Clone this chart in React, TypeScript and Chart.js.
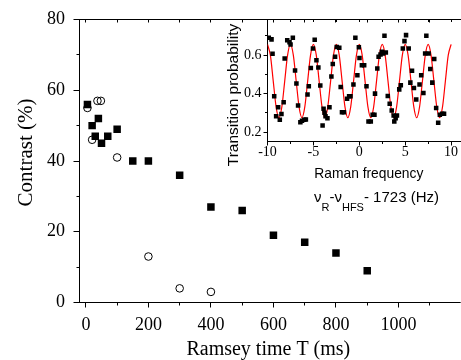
import React, { useEffect, useRef } from "react";
import { Chart, registerables } from "chart.js";

Chart.register(...registerables);

// ---------- Main chart data ----------
const squareTime = [5, 20, 30, 40, 50, 70, 100, 150, 200, 300, 400, 500, 600, 700, 800, 900];
const squareContrast = [56, 50, 47, 52, 45, 47, 49, 40, 40, 36, 27, 26, 19, 17, 14, 9];
const circleTime = [5, 20, 37, 48, 100, 200, 300, 400];
const circleContrast = [55, 46, 57, 57, 41, 13, 4, 3];
const mainXTicks = [0, 200, 400, 600, 800, 1000];
const mainXMinor = [100, 300, 500, 700, 900, 1100];
const mainYTicks = [0, 20, 40, 60, 80];
const mainYMinor = [10, 30, 50, 70];

// ---------- Inset data ----------
const insetFreq = [
  -9.86, -9.56, -9.45, -9.27, -9.06, -8.84, -8.66, -8.48, -8.24, -8.13,
  -7.85, -7.6, -7.49, -7.24, -7.0, -6.85, -6.67, -6.42, -6.24, -5.99,
  -5.82, -5.64, -5.5, -5.28, -5.05, -4.86, -4.67, -4.46, -4.25, -4.0,
  -3.89, -3.79, -3.68, -3.47, -3.25, -3.04, -2.89, -2.64, -2.46, -2.18,
  -2.03, -1.89, -1.68, -1.33, -1.11, -0.96, -0.64, -0.43, -0.21, -0.05,
  0.02, 0.28, 0.53, 0.78, 1.0, 1.25, 1.45, 1.65, 1.71, 1.96,
  2.1, 2.31, 2.46, 2.6, 2.74, 2.89, 3.1, 3.31, 3.53, 3.74,
  3.81, 3.96, 4.1, 4.35, 4.52, 4.74, 4.92, 5.09, 5.38, 5.56,
  5.74, 5.95, 6.2, 6.56, 6.74, 6.98, 7.17, 7.3, 7.55, 7.73,
  7.95, 8.16, 8.37, 8.59, 8.77, 9.02, 9.23,
];
const insetProb = [
  0.69, 0.681, 0.606, 0.386, 0.283, 0.33, 0.265, 0.294, 0.355, 0.582,
  0.676, 0.666, 0.655, 0.69, 0.52, 0.452, 0.339, 0.252, 0.259, 0.265,
  0.266, 0.396, 0.438, 0.533, 0.634, 0.679, 0.573, 0.535, 0.442, 0.235,
  0.322, 0.301, 0.283, 0.273, 0.33, 0.489, 0.554, 0.591, 0.641, 0.638,
  0.434, 0.304, 0.304, 0.374, 0.386, 0.386, 0.447, 0.69, 0.495, 0.64,
  0.585, 0.547, 0.547, 0.438, 0.256, 0.256, 0.291, 0.291, 0.4, 0.53,
  0.591, 0.603, 0.617, 0.608, 0.7, 0.613, 0.388, 0.348, 0.313, 0.287,
  0.256, 0.273, 0.287, 0.422, 0.443, 0.634, 0.672, 0.703, 0.634, 0.457,
  0.518, 0.429, 0.37, 0.447, 0.495, 0.403, 0.608, 0.7, 0.608, 0.527,
  0.457, 0.579, 0.325, 0.249, 0.291, 0.296, 0.296,
];
const fitFreq = [
  -10, -9.6875, -9.375, -9.0625, -8.75, -8.4375, -8.125, -7.8125,
  -7.5, -7.1875, -6.875, -6.5625, -6.25, -5.9375, -5.625, -5.3125,
  -5, -4.6875, -4.375, -4.0625, -3.75, -3.4375, -3.125, -2.8125,
  -2.5, -2.1875, -1.875, -1.5625, -1.25, -0.9375, -0.625, -0.3125,
  0, 0.3125, 0.625, 0.9375, 1.25, 1.5625, 1.875, 2.1875,
  2.5, 2.8125, 3.125, 3.4375, 3.75, 4.0625, 4.375, 4.6875,
  5, 5.3125, 5.625, 5.9375, 6.25, 6.5625, 6.875, 7.1875,
  7.5, 7.8125, 8.125, 8.4375, 8.75, 9.0625, 9.375, 9.6875, 10,
];
const fitProb = [
  0.655, 0.599, 0.465, 0.331, 0.275, 0.331, 0.465, 0.599,
  0.655, 0.599, 0.465, 0.331, 0.275, 0.331, 0.465, 0.599,
  0.655, 0.599, 0.465, 0.331, 0.275, 0.331, 0.465, 0.599,
  0.655, 0.599, 0.465, 0.331, 0.275, 0.331, 0.465, 0.599,
  0.655, 0.599, 0.465, 0.331, 0.275, 0.331, 0.465, 0.599,
  0.655, 0.599, 0.465, 0.331, 0.275, 0.331, 0.465, 0.599,
  0.655, 0.599, 0.465, 0.331, 0.275, 0.331, 0.465, 0.599,
  0.655, 0.599, 0.465, 0.331, 0.275, 0.331, 0.465, 0.599,
  0.655,
];
const insetXTicks = [-10, -5, 0, 5, 10];
const insetXMinor = [-7.5, -2.5, 2.5, 7.5];
const insetYTicks = [0.2, 0.4, 0.6];
const insetYMinor = [0.3, 0.5, 0.7];

const SERIF = '"Liberation Serif", "Times New Roman", serif';
const SANS = '"Liberation Sans", Arial, sans-serif';

const px = (v: number) => Math.floor(v) + 0.5;

function zeroPad(s: any) {
  s.paddingLeft = 0;
  s.paddingRight = 0;
  s.paddingTop = 0;
  s.paddingBottom = 0;
}

function drawFrame(chart: any, o: any) {
  const { ctx, chartArea: ca, scales } = chart;
  const xs = scales.x;
  const ys = scales.y;
  const L = px(ca.left);
  const B = px(ca.bottom);
  const T = px(ca.top);
  const R = ca.right + 5;
  ctx.save();
  ctx.strokeStyle = "#000";
  ctx.lineWidth = 1;
  ctx.beginPath();
  ctx.moveTo(L, T);
  ctx.lineTo(L, B);
  ctx.moveTo(L - 0.5, B);
  ctx.lineTo(R, B);
  ctx.moveTo(L - 0.5, T);
  ctx.lineTo(R, T);
  o.yMajor.forEach((v: number) => {
    const p = px(ys.getPixelForValue(v));
    ctx.moveTo(L, p);
    ctx.lineTo(L - o.yMajLen, p);
  });
  o.yMinor.forEach((v: number) => {
    const p = px(ys.getPixelForValue(v));
    ctx.moveTo(L, p);
    ctx.lineTo(L - o.yMinLen, p);
  });
  o.xMajor.forEach((v: number) => {
    const p = px(xs.getPixelForValue(v));
    ctx.moveTo(p, B);
    ctx.lineTo(p, B + o.xMajLen);
    ctx.moveTo(p, T);
    ctx.lineTo(p, T + o.topLen);
  });
  o.xMinor.forEach((v: number) => {
    const p = px(xs.getPixelForValue(v));
    ctx.moveTo(p, B);
    ctx.lineTo(p, B + o.xMinLen);
    ctx.moveTo(p, T);
    ctx.lineTo(p, T + o.topLen);
  });
  ctx.stroke();
  ctx.restore();
}

export default function App() {
  const mainRef = useRef<HTMLCanvasElement>(null);
  const insetRef = useRef<HTMLCanvasElement>(null);

  useEffect(() => {
    const mainChart = new Chart(mainRef.current as HTMLCanvasElement, {
      type: "scatter",
      data: {
        datasets: [
          {
            data: circleTime.map((t, i) => ({ x: t, y: circleContrast[i] })),
            pointStyle: "circle",
            pointRadius: 3.8,
            backgroundColor: "rgba(0,0,0,0)",
            borderColor: "#000",
            borderWidth: 1,
            order: 0,
          },
          {
            data: squareTime.map((t, i) => ({ x: t, y: squareContrast[i] })),
            pointStyle: "rect",
            pointRadius: 5.3,
            backgroundColor: "#000",
            borderColor: "#000",
            borderWidth: 0,
            order: 1,
          },
        ],
      },
      options: {
        responsive: false,
        animation: false,
        devicePixelRatio: 1,
        events: [],
        layout: { padding: { top: 19.5, right: 0, left: 0, bottom: 0 } },
        plugins: { legend: { display: false }, tooltip: { enabled: false } },
        scales: {
          x: {
            type: "linear",
            min: -22,
            max: 1183,
            grid: { display: false, drawTicks: false },
            border: { display: false },
            afterBuildTicks: (s: any) => {
              s.ticks = mainXTicks.map((v) => ({ value: v }));
            },
            afterFit: (s: any) => {
              s.height = 57.5;
              zeroPad(s);
            },
            ticks: {
              padding: 11.5,
              color: "#000",
              maxRotation: 0,
              autoSkip: false,
              font: { family: SERIF, size: 18 },
              callback: (v: any) => String(v),
            },
          },
          y: {
            type: "linear",
            min: 0,
            max: 80,
            grid: { display: false, drawTicks: false },
            border: { display: false },
            afterBuildTicks: (s: any) => {
              s.ticks = mainYTicks.map((v) => ({ value: v }));
            },
            afterFit: (s: any) => {
              s.width = 79;
              zeroPad(s);
            },
            ticks: {
              padding: 14,
              color: "#000",
              autoSkip: false,
              font: { family: SERIF, size: 18 },
              callback: (v: any) => String(v),
            },
          },
        },
      } as any,
      plugins: [
        {
          id: "mainFrame",
          beforeDatasetsDraw: (chart: any) =>
            drawFrame(chart, {
              yMajor: mainYTicks,
              yMinor: mainYMinor,
              xMajor: mainXTicks,
              xMinor: mainXMinor,
              yMajLen: 6,
              yMinLen: 3,
              xMajLen: 5,
              xMinLen: 3,
              topLen: 3,
            }),
          afterDraw: (chart: any) => {
            const { ctx, chartArea: ca } = chart;
            ctx.save();
            ctx.fillStyle = "#000";
            ctx.textBaseline = "alphabetic";
            ctx.textAlign = "center";
            ctx.font = `20px ${SERIF}`;
            ctx.fillText("Ramsey time T (ms)", (ca.left + ca.right) / 2 + 1, 355);
            ctx.translate(32, 152.5);
            ctx.rotate(-Math.PI / 2);
            ctx.font = `21px ${SERIF}`;
            ctx.fillText("Contrast (%)", 0, 0);
            ctx.restore();
          },
        },
      ],
    });

    const OX = 200;
    const insetChart = new Chart(insetRef.current as HTMLCanvasElement, {
      type: "scatter",
      data: {
        datasets: [
          {
            data: insetFreq.map((f, i) => ({ x: f, y: insetProb[i] })),
            pointStyle: "rect",
            pointRadius: 3.2,
            backgroundColor: "#000",
            borderColor: "#000",
            borderWidth: 0,
            order: 0,
          },
          {
            data: fitFreq.map((f, i) => ({ x: f, y: fitProb[i] })),
            showLine: true,
            pointRadius: 0,
            borderColor: "#ff0000",
            borderWidth: 1.2,
            cubicInterpolationMode: "monotone",
            order: 1,
          },
        ],
      },
      options: {
        responsive: false,
        animation: false,
        devicePixelRatio: 1,
        events: [],
        layout: { padding: { top: 19.5, right: 0, left: 0, bottom: 0 } },
        plugins: { legend: { display: false }, tooltip: { enabled: false } },
        scales: {
          x: {
            type: "linear",
            min: -10,
            max: 10.64,
            grid: { display: false, drawTicks: false },
            border: { display: false },
            afterBuildTicks: (s: any) => {
              s.ticks = insetXTicks.map((v) => ({ value: v }));
            },
            afterFit: (s: any) => {
              s.height = 78.5;
              zeroPad(s);
            },
            ticks: {
              padding: 2,
              color: "#000",
              maxRotation: 0,
              autoSkip: false,
              font: { family: SERIF, size: 14 },
              callback: (v: any) => String(v),
            },
          },
          y: {
            type: "linear",
            min: 0.152,
            max: 0.784,
            grid: { display: false, drawTicks: false },
            border: { display: false },
            afterBuildTicks: (s: any) => {
              s.ticks = insetYTicks.map((v) => ({ value: v }));
            },
            afterFit: (s: any) => {
              s.width = 67.5;
              zeroPad(s);
            },
            ticks: {
              padding: 6,
              color: "#000",
              autoSkip: false,
              font: { family: SERIF, size: 14 },
              callback: (v: any) => Number(v).toFixed(1),
            },
          },
        },
      } as any,
      plugins: [
        {
          id: "insetFrame",
          beforeDatasetsDraw: (chart: any) =>
            drawFrame(chart, {
              yMajor: insetYTicks,
              yMinor: insetYMinor,
              xMajor: insetXTicks,
              xMinor: insetXMinor,
              yMajLen: 4,
              yMinLen: 2.5,
              xMajLen: 4,
              xMinLen: 2.5,
              topLen: 2.5,
            }),
          afterDraw: (chart: any) => {
            const { ctx } = chart;
            ctx.save();
            ctx.fillStyle = "#000";
            ctx.textBaseline = "alphabetic";
            // y title
            ctx.save();
            ctx.translate(237.5 - OX, 95);
            ctx.rotate(-Math.PI / 2);
            ctx.textAlign = "center";
            ctx.font = `15.5px ${SANS}`;
            ctx.fillText("Transition probability", 0, 0);
            ctx.restore();
            // x title line 1
            ctx.textAlign = "left";
            ctx.font = `15px ${SANS}`;
            ctx.fillText("Raman frequency", 314.3 - OX, 178.3, 109);
            // x title line 2
            let x = 314 - OX;
            const base = 201.5;
            const sub = 210.5;
            const parts: [string, boolean][] = [
              ["\u03bd", false],
              ["R", true],
              ["-", false],
              ["\u03bd", false],
              ["HFS", true],
              ["- 1723 (Hz)", false],
            ];
            parts.forEach(([t, isSub]) => {
              ctx.font = isSub ? `11px ${SANS}` : `15px ${SANS}`;
              ctx.fillText(t, x, isSub ? sub : base);
              x += ctx.measureText(t).width;
            });
            ctx.restore();
          },
        },
      ],
    });

    return () => {
      mainChart.destroy();
      insetChart.destroy();
    };
  }, []);

  return (
    <div
      style={{
        position: "fixed",
        left: 0,
        top: 0,
        width: 461,
        height: 360,
        background: "#fff",
        overflow: "hidden",
      }}
    >
      <canvas
        ref={mainRef}
        width={461}
        height={360}
        style={{ position: "absolute", left: 0, top: 0, width: 461, height: 360 }}
      />
      <canvas
        ref={insetRef}
        width={261}
        height={220}
        style={{ position: "absolute", left: 200, top: 0, width: 261, height: 220 }}
      />
    </div>
  );
}
